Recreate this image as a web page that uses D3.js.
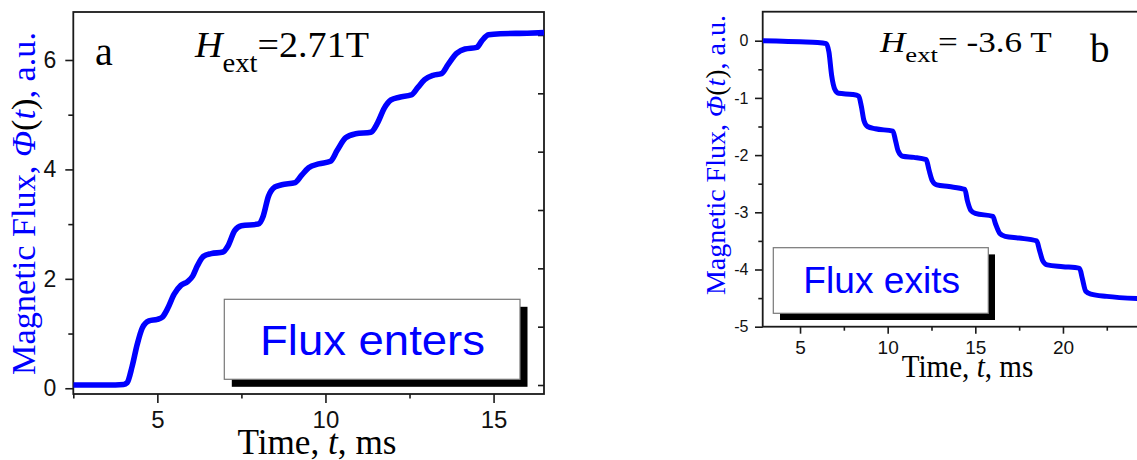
<!DOCTYPE html>
<html>
<head>
<meta charset="utf-8">
<script src="https://cdn.jsdelivr.net/npm/d3@7"></script>
<style>
  body { margin: 0; background: #fff; }
  svg { display: block; }
</style>
</head>
<body>
<div id="chart"></div>
<script>
/* global d3 */

// panel a : flux enters, H_ext = 2.71 T
var enterTime = [ 2.5, 3.0, 3.5, 4.0, 4.1, 4.25, 4.4, 4.55, 4.75, 5.0, 5.15, 5.3, 5.5, 5.7, 5.9, 6.05, 6.2, 6.37, 6.6,
  6.95, 7.1, 7.3, 7.5, 8.0, 8.15, 8.3, 8.5, 8.7, 9.1, 9.3, 9.5, 9.8, 10.15, 10.35, 10.6, 10.9, 11.35, 11.55, 11.75,
  11.95, 12.2, 12.55, 12.75, 12.95, 13.2, 13.45, 13.65, 13.9, 14.15, 14.5, 14.65, 14.85, 15.2, 16.0, 16.5 ];
var enterFlux = [ 0.06, 0.06, 0.06, 0.07, 0.1, 0.4, 0.8, 1.1, 1.23, 1.26, 1.3, 1.45, 1.72, 1.88, 1.95, 2.05, 2.25, 2.41, 2.46,
  2.49, 2.6, 2.88, 2.97, 3.0, 3.15, 3.5, 3.68, 3.72, 3.76, 3.9, 4.03, 4.1, 4.15, 4.35, 4.58, 4.65, 4.68, 4.85, 5.12,
  5.27, 5.32, 5.36, 5.5, 5.64, 5.72, 5.75, 5.92, 6.12, 6.2, 6.23, 6.35, 6.46, 6.48, 6.49, 6.5 ];

// panel b : flux exits, H_ext = -3.6 T
var exitTime = [ 2.87, 4.0, 5.0, 6.0, 6.5, 6.65, 6.8, 7.0, 7.2, 8.0, 8.35, 8.5, 8.65, 8.85, 9.3, 10.3, 10.45, 10.6, 10.85,
  11.5, 12.2, 12.35, 12.55, 12.8, 13.5, 14.4, 14.55, 14.75, 15.0, 16.0, 16.15, 16.4, 16.7, 17.5, 18.5, 18.65, 18.85,
  19.1, 20.0, 20.95, 21.1, 21.3, 21.6, 22.5, 24.3 ];
var exitFlux = [ 0.0, -0.01, -0.02, -0.03, -0.05, -0.2, -0.6, -0.86, -0.92, -0.94, -0.97, -1.15, -1.4, -1.5, -1.54, -1.58,
  -1.75, -1.93, -2.02, -2.04, -2.08, -2.25, -2.45, -2.52, -2.55, -2.6, -2.8, -2.97, -3.02, -3.07, -3.2, -3.37, -3.42,
  -3.45, -3.5, -3.65, -3.85, -3.92, -3.95, -3.98, -4.15, -4.38, -4.43, -4.47, -4.51 ];

// tick values
var enterXMajor = [ 5, 10, 15 ];
var enterXMinor = [ 2.5, 7.5, 12.5 ];
var enterYMajor = [ 0, 2, 4, 6 ];
var enterYMinor = [ 1, 3, 5 ];
var enterRightTicks = [ 0, 1, 2, 3, 4, 5, 6 ];
var exitXMajor = [ 5, 10, 15, 20 ];
var exitXMinor = [ 7.5, 12.5, 17.5, 22.5 ];
var exitYMajor = [ 0, -1, -2, -3, -4, -5 ];
var exitYMinor = [ -0.5, -1.5, -2.5, -3.5, -4.5 ];

var SERIF = "'Times New Roman', 'Liberation Serif', serif";
var SANS = "Arial, 'Liberation Sans', sans-serif";
var BLUE = "#0000ff";

var svg = d3.select( "#chart" ).append( "svg" )
  .attr( "width", 1137 )
  .attr( "height", 460 );

// plain labels, with an ascii hyphen for negatives
function plain( d ) { return String( d ); }

function styleAxis( g, size ) {
  g.select( ".domain" ).remove();
  g.selectAll( "line" ).attr( "stroke", "#1a1a1a" ).attr( "stroke-width", 1.6 );
  g.selectAll( "text" )
    .style( "font-family", SANS )
    .style( "font-size", size + "px" )
    .attr( "fill", "#111" );
}

function panel( p ) {

  var x = d3.scaleLinear().domain( p.xDomain ).range( [ p.left, p.right ] );
  var y = d3.scaleLinear().domain( p.yDomain ).range( [ p.bottom, p.top ] );

  var g = svg.append( "g" );

  // axes, minor then major
  g.append( "g" )
    .attr( "transform", "translate(0," + p.bottom + ")" )
    .call( d3.axisBottom( x ).tickValues( p.xMinor ).tickSize( p.xTick[ 1 ] ).tickSizeOuter( 0 ).tickFormat( "" ) )
    .call( styleAxis, p.xFont );
  g.append( "g" )
    .attr( "transform", "translate(0," + p.bottom + ")" )
    .call( d3.axisBottom( x ).tickValues( p.xMajor ).tickSize( p.xTick[ 0 ] ).tickPadding( p.xPad ).tickSizeOuter( 0 ).tickFormat( plain ) )
    .call( styleAxis, p.xFont );
  g.append( "g" )
    .attr( "transform", "translate(" + p.left + ",0)" )
    .call( d3.axisLeft( y ).tickValues( p.yMinor ).tickSize( p.yTick[ 1 ] ).tickSizeOuter( 0 ).tickFormat( "" ) )
    .call( styleAxis, p.yFont );
  g.append( "g" )
    .attr( "transform", "translate(" + p.left + ",0)" )
    .call( d3.axisLeft( y ).tickValues( p.yMajor ).tickSize( p.yTick[ 0 ] ).tickPadding( p.yPad ).tickSizeOuter( 0 ).tickFormat( plain ) )
    .call( styleAxis, p.yFont );

  if ( p.rightTicks ) {
    var yr = d3.scaleLinear().domain( p.rightDomain ).range( [ p.bottom, p.top ] );
    g.append( "g" )
      .attr( "transform", "translate(" + p.right + ",0)" )
      .call( d3.axisLeft( yr ).tickValues( p.rightTicks ).tickSize( 6 ).tickSizeOuter( 0 ).tickFormat( "" ) )
      .call( styleAxis, 10 );
  }

  // frame
  g.append( "rect" )
    .attr( "x", p.left )
    .attr( "y", p.top )
    .attr( "width", p.right - p.left )
    .attr( "height", p.bottom - p.top )
    .attr( "fill", "none" )
    .attr( "stroke", "#1a1a1a" )
    .attr( "stroke-width", 1.8 );

  // curve
  svg.append( "clipPath" ).attr( "id", p.id + "-clip" )
    .append( "rect" )
      .attr( "x", p.left )
      .attr( "y", p.top )
      .attr( "width", p.right - p.left )
      .attr( "height", p.bottom - p.top );

  var pts = p.time.map( ( t, i ) => [ t, p.flux[ i ] ] );
  g.append( "path" )
    .datum( pts )
    .attr( "clip-path", "url(#" + p.id + "-clip)" )
    .attr( "fill", "none" )
    .attr( "stroke", BLUE )
    .attr( "stroke-width", p.lineWidth )
    .attr( "stroke-linejoin", "round" )
    .attr( "d", d3.line().x( d => x( d[ 0 ] ) ).y( d => y( d[ 1 ] ) ).curve( d3.curveMonotoneX ) );

  // legend box with drop shadow
  var b = p.box;
  g.append( "rect" )
    .attr( "x", b.x + b.off ).attr( "y", b.y + b.off )
    .attr( "width", b.w ).attr( "height", b.h )
    .attr( "fill", "#000" );
  g.append( "rect" )
    .attr( "x", b.x ).attr( "y", b.y )
    .attr( "width", b.w ).attr( "height", b.h )
    .attr( "fill", "#fff" )
    .attr( "stroke", "#777" )
    .attr( "stroke-width", 1.2 );
  g.append( "text" )
    .attr( "x", b.tx ).attr( "y", b.ty )
    .attr( "text-anchor", "middle" )
    .attr( "textLength", b.tw )
    .attr( "lengthAdjust", "spacingAndGlyphs" )
    .style( "font-family", SANS )
    .style( "font-size", b.size + "px" )
    .attr( "fill", BLUE )
    .text( b.label );

  // x title
  var xt = g.append( "text" )
    .attr( "x", p.xTitle.x ).attr( "y", p.xTitle.y )
    .attr( "text-anchor", "middle" )
    .attr( "textLength", p.xTitle.w )
    .attr( "lengthAdjust", "spacingAndGlyphs" )
    .style( "font-family", SERIF )
    .style( "font-size", p.xTitle.size + "px" )
    .attr( "fill", "#000" );
  xt.append( "tspan" ).text( "Time, " );
  xt.append( "tspan" ).style( "font-style", "italic" ).text( "t" );
  xt.append( "tspan" ).text( ", ms" );

  // y title
  var yt = g.append( "text" )
    .attr( "transform", "translate(" + p.yTitle.x + "," + p.yTitle.y + ") rotate(-90)" )
    .attr( "text-anchor", "middle" )
    .attr( "textLength", p.yTitle.w )
    .attr( "lengthAdjust", "spacingAndGlyphs" )
    .style( "font-family", SERIF )
    .style( "font-size", p.yTitle.size + "px" )
    .attr( "fill", BLUE );
  yt.append( "tspan" ).text( "Magnetic Flux, " );
  yt.append( "tspan" ).style( "font-style", "italic" ).text( "\u03A6" );
  yt.append( "tspan" ).attr( "fill", "#000" ).text( "(" );
  yt.append( "tspan" ).style( "font-style", "italic" ).text( "t" );
  yt.append( "tspan" ).attr( "fill", "#000" ).text( ")" );
  yt.append( "tspan" ).text( ", a.u." );

  // field annotation
  var h = p.field;
  var ht = g.append( "text" )
    .attr( "x", h.x ).attr( "y", h.y )
    .attr( "textLength", h.w )
    .attr( "lengthAdjust", "spacingAndGlyphs" )
    .style( "font-family", SERIF )
    .style( "font-size", h.size + "px" )
    .attr( "fill", "#000" );
  ht.append( "tspan" ).style( "font-style", "italic" ).text( "H" );
  ht.append( "tspan" ).attr( "dy", h.sub ).style( "font-size", h.subSize + "px" ).text( "ext" );
  ht.append( "tspan" ).attr( "dy", -h.sub ).text( h.label );

  // panel letter
  g.append( "text" )
    .attr( "x", p.letter.x ).attr( "y", p.letter.y )
    .style( "font-family", SERIF )
    .style( "font-size", p.letter.size + "px" )
    .attr( "fill", "#000" )
    .text( p.letter.text );
}

panel( {
  id: "a",
  time: enterTime, flux: enterFlux,
  xDomain: [ 2.5, 16.5 ], yDomain: [ -0.105, 6.877 ],
  left: 73.3, right: 544, top: 12, bottom: 394,
  xMajor: enterXMajor, xMinor: enterXMinor, yMajor: enterYMajor, yMinor: enterYMinor,
  xTick: [ 9, 4.5 ], yTick: [ 8, 5 ], xPad: 8, yPad: 9, xFont: 24, yFont: 23,
  rightTicks: enterRightTicks, rightDomain: [ -0.154, 6.394 ],
  lineWidth: 5.6,
  box: { x: 224.3, y: 299.3, w: 295.7, h: 80, off: 7.5, tx: 372.5, ty: 355, tw: 225, size: 42, label: "Flux enters" },
  xTitle: { x: 317, y: 454, w: 159, size: 35 },
  yTitle: { x: 35, y: 203.5, w: 343, size: 34 },
  field: { x: 195, y: 56.7, w: 174, size: 36, subSize: 27, sub: 15, label: "=2.71T" },
  letter: { x: 95, y: 65, size: 40, text: "a" }
} );

panel( {
  id: "b",
  time: exitTime, flux: exitFlux,
  xDomain: [ 2.87, 25 ], yDomain: [ -5, 0.507 ],
  left: 762.7, right: 1150.6, top: 11.7, bottom: 326.7,
  xMajor: exitXMajor, xMinor: exitXMinor, yMajor: exitYMajor, yMinor: exitYMinor,
  xTick: [ 7, 4 ], yTick: [ 7.7, 4.4 ], xPad: 7, yPad: 6.5, xFont: 19, yFont: 16,
  lineWidth: 5,
  box: { x: 773.3, y: 247.7, w: 215, h: 65.6, off: 6.7, tx: 881.7, ty: 293.3, tw: 156.7, size: 36, label: "Flux exits" },
  xTitle: { x: 967.5, y: 376.7, w: 131.6, size: 31 },
  yTitle: { x: 725, y: 155, w: 280, size: 28 },
  field: { x: 880, y: 51.7, w: 171.7, size: 29, subSize: 22, sub: 10, label: "= -3.6 T" },
  letter: { x: 1090, y: 61.7, size: 39, text: "b" }
} );
</script>
</body>
</html>
